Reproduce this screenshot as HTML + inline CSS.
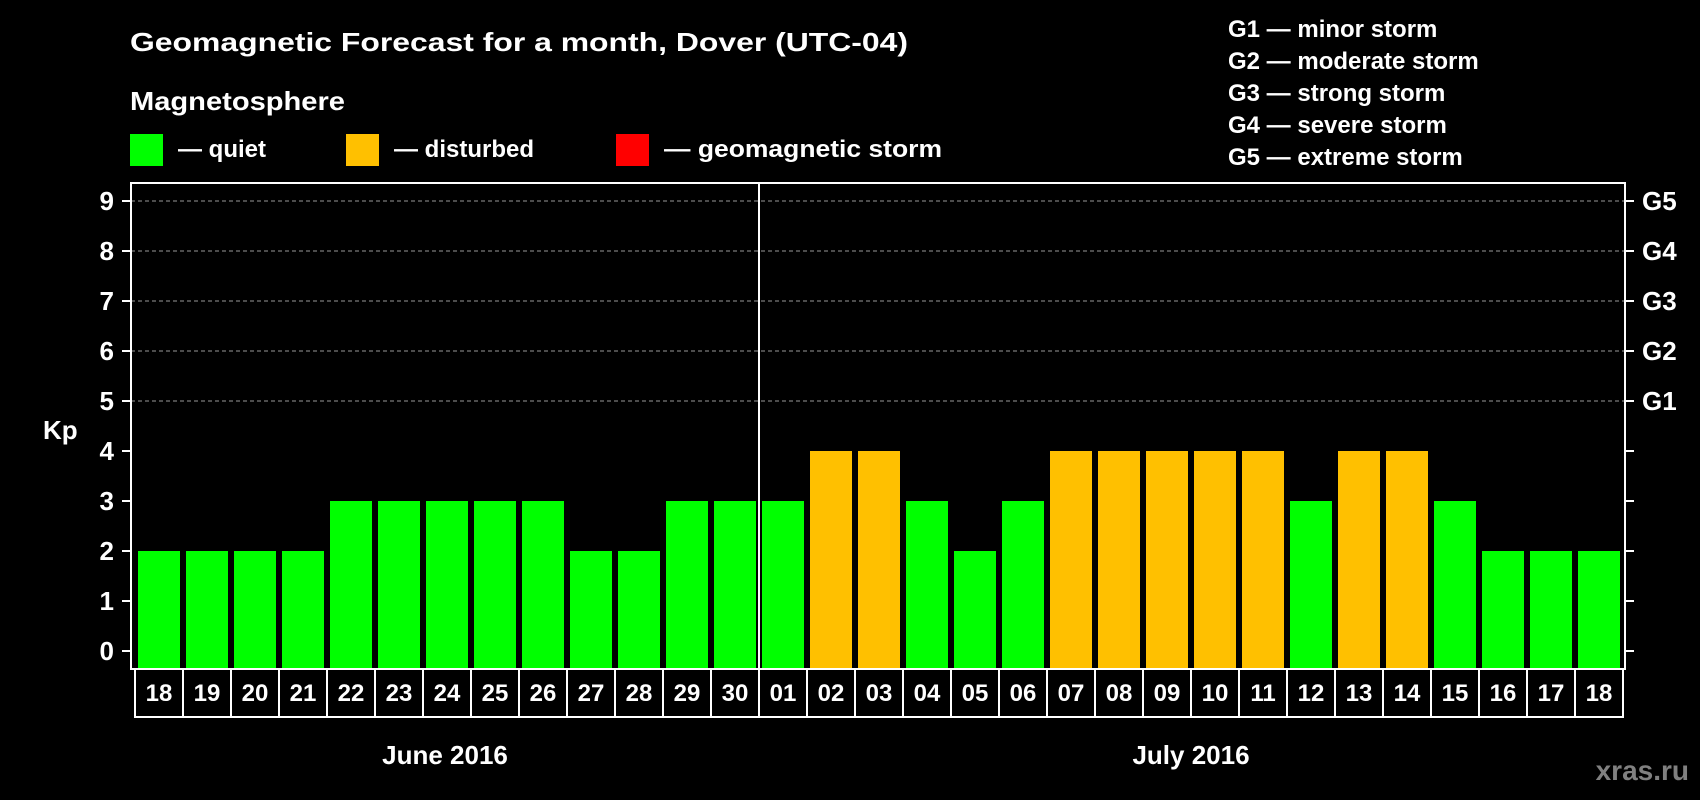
<!DOCTYPE html>
<html><head><meta charset="utf-8"><style>
html,body{margin:0;padding:0;background:#000;}
svg{display:block;font-family:"Liberation Sans",Arial,sans-serif;font-weight:bold;}
</style></head><body>
<svg id="chart" width="1700" height="800" viewBox="0 0 1700 800">
<rect x="0" y="0" width="1700" height="800" fill="#000"/>
<text x="130" y="51" font-size="26" fill="#fff" textLength="778" lengthAdjust="spacingAndGlyphs">Geomagnetic Forecast for a month, Dover (UTC-04)</text>
<text x="130" y="110" font-size="26" fill="#fff" textLength="215" lengthAdjust="spacingAndGlyphs">Magnetosphere</text>
<g>
<rect x="130" y="134" width="33" height="32" fill="#00ff00"/>
<text x="178" y="157" font-size="24" fill="#fff">— quiet</text></g>
<g>
<rect x="346" y="134" width="33" height="32" fill="#ffc000"/>
<text x="394" y="157" font-size="24" fill="#fff">— disturbed</text></g>
<g>
<rect x="616" y="134" width="33" height="32" fill="#ff0000"/>
<text x="664" y="157" font-size="24" fill="#fff" textLength="278" lengthAdjust="spacingAndGlyphs">— geomagnetic storm</text></g>
<g font-size="24" fill="#fff">
<text x="1228" y="37">G1 — minor storm</text>
<text x="1228" y="69">G2 — moderate storm</text>
<text x="1228" y="101">G3 — strong storm</text>
<text x="1228" y="133">G4 — severe storm</text>
<text x="1228" y="165">G5 — extreme storm</text>
</g>
<text x="43" y="439" font-size="26" fill="#fff">Kp</text>
<g id="grid"></g><g id="bars"></g><g id="axes"></g><g id="dates"></g>
<text x="445" y="764" font-size="26" fill="#fff" text-anchor="middle">June 2016</text>
<text x="1191" y="764" font-size="26" fill="#fff" text-anchor="middle">July 2016</text>
<text x="1689" y="780" font-size="28" fill="#808080" text-anchor="end">xras.ru</text>
</svg>
<script>
const days = ["18","19","20","21","22","23","24","25","26","27","28","29","30","01","02","03","04","05","06","07","08","09","10","11","12","13","14","15","16","17","18"];
const kpValues = [2,2,2,2,3,3,3,3,3,2,2,3,3,3,4,4,3,2,3,4,4,4,4,4,3,4,4,3,2,2,2];
const yTicks = [0,1,2,3,4,5,6,7,8,9];
const gLabels = ["","","","","","G1","G2","G3","G4","G5"];
const monthSplit = 13;
const NS="http://www.w3.org/2000/svg";
const PL=131, PR=1625, PT=183, PB=669, Y0=651, UNIT=50, CX0=135, CW=48;
const y = v => Y0 - v*UNIT;
const xCell = i => CX0 + i*CW;
function mk(tag, attrs, parent){const e=document.createElementNS(NS,tag);for(const k in attrs)e.setAttribute(k,attrs[k]);parent.appendChild(e);return e;}
const grid=document.getElementById('grid'), bars=document.getElementById('bars'), axes=document.getElementById('axes'), dates=document.getElementById('dates');
yTicks.forEach(t=>{
  if(gLabels[t]){const l=mk('line',{x1:PL,x2:PR,y1:y(t),y2:y(t),stroke:'#999','stroke-width':1,'stroke-dasharray':'4,3'},grid);
  
  }
});
kpValues.forEach((v,i)=>{
  const r=mk('rect',{x:xCell(i)+3,y:y(v),width:42,height:PB-y(v),fill:v>=5?'#ff0000':(v>=4?'#ffc000':'#00ff00')},bars);
  
  
});
const frame=mk('rect',{x:PL,y:PT,width:PR-PL,height:PB-PT,fill:'none',stroke:'#fff','stroke-width':2},axes);


const sep=mk('line',{x1:xCell(monthSplit),x2:xCell(monthSplit),y1:PT,y2:PB,stroke:'#fff','stroke-width':2},axes);


yTicks.forEach(t=>{
  mk('line',{x1:PL-9,x2:PL,y1:y(t),y2:y(t),stroke:'#fff','stroke-width':2},axes);
  mk('line',{x1:PR,x2:PR+9,y1:y(t),y2:y(t),stroke:'#fff','stroke-width':2},axes);
  const tl=mk('text',{x:114,y:y(t)+9,'font-size':26,fill:'#fff','text-anchor':'end'},axes);
  tl.textContent=t;
  
  
  if(gLabels[t]){const g=mk('text',{x:1642,y:y(t)+9,'font-size':26,fill:'#fff'},axes);
  g.textContent=gLabels[t];
  
  }
});
days.forEach((d,i)=>{
  const c=mk('rect',{x:xCell(i),y:669,width:CW,height:48,fill:'#000',stroke:'#fff','stroke-width':2},dates);
  
  
  const t=mk('text',{x:xCell(i)+CW/2,y:701,'font-size':24,fill:'#fff','text-anchor':'middle'},dates);
  t.textContent=d;
  
  
});
</script>
</body></html>
